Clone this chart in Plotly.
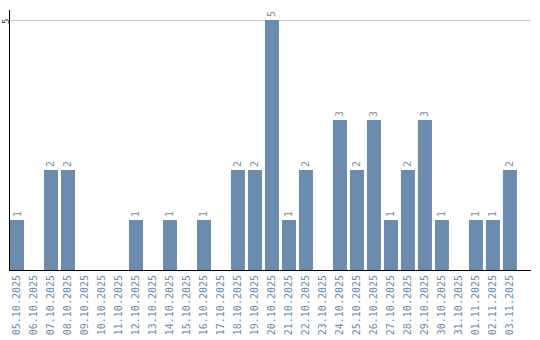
import plotly.graph_objects as go

dates = ["05.10.2025", "06.10.2025", "07.10.2025", "08.10.2025", "09.10.2025",
         "10.10.2025", "11.10.2025", "12.10.2025", "13.10.2025", "14.10.2025",
         "15.10.2025", "16.10.2025", "17.10.2025", "18.10.2025", "19.10.2025",
         "20.10.2025", "21.10.2025", "22.10.2025", "23.10.2025", "24.10.2025",
         "25.10.2025", "26.10.2025", "27.10.2025", "28.10.2025", "29.10.2025",
         "30.10.2025", "31.10.2025", "01.11.2025", "02.11.2025", "03.11.2025"]
counts = [1, 0, 2, 2, 0, 0, 0, 1, 0, 1, 0, 1, 0, 2, 2,
          5, 1, 2, 0, 3, 2, 3, 1, 2, 3, 1, 0, 1, 1, 2]
y_ticks = [5]
y_tick_labels = ["5\u00a0"]

labels = [str(c) if c > 0 else "" for c in counts]
font = "DejaVu Sans Mono"

fig = go.Figure(go.Bar(
    x=dates, y=counts,
    marker=dict(color="#6b8cae", line=dict(width=0)),
    text=labels, textposition="outside", textangle=-90,
    textfont=dict(family=font, size=10, color="#7d8fa3"),
    cliponaxis=False,
))

fig.update_layout(
    width=540, height=340,
    margin=dict(l=10, r=9, t=10, b=70),
    paper_bgcolor="white", plot_bgcolor="white",
    bargap=0.176,
    showlegend=False,
    xaxis=dict(
        type="category", range=[-0.412, 30.24], automargin=False,
        tickangle=-90, tickfont=dict(family=font, size=10, color="#6b8cae"),
        showgrid=False, showline=True, linecolor="black", linewidth=1,
        ticks="", ticklen=0,
    ),
    yaxis=dict(
        range=[0, 5.2], tickvals=y_ticks, ticktext=y_tick_labels, automargin=False,
        tickangle=-90, tickfont=dict(family=font, size=9, color="#333333"),
        ticklabelstandoff=-4,
        showgrid=True, gridcolor="#cccccc", gridwidth=1,
        showline=True, linecolor="black", linewidth=1,
        zeroline=False, ticks="",
    ),
)

fig.write_html("out.html")
